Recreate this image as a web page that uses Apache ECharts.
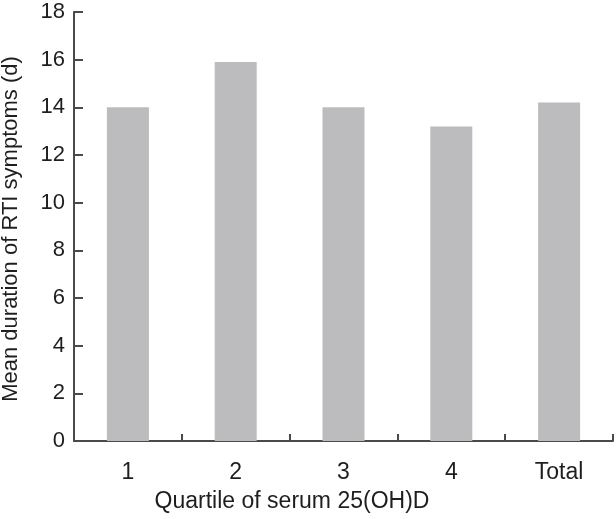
<!DOCTYPE html>
<html>
<head>
<meta charset="utf-8">
<script src="https://cdn.jsdelivr.net/npm/echarts@6/dist/echarts.min.js"></script>
<style>
  html, body { margin: 0; padding: 0; background: #fff; }
  #chart { width: 616px; height: 519px; }
</style>
</head>
<body>
<div id="chart"></div>
<script>
// categories and mean duration values
var quartiles = ['1', '2', '3', '4', 'Total'];
var meanDuration = [14.0, 15.9, 14.0, 13.2, 14.2];
var yTicks = [0, 2, 4, 6, 8, 10, 12, 14, 16, 18];

var axisColor = '#4a4a4a';
var textColor = '#1e1e1e';
var font = 'Liberation Sans, Arial, sans-serif';

var chart = echarts.init(document.getElementById('chart'));
chart.setOption({
    animation: false,
    grid: { left: 74, right: 3, top: 12, bottom: 78 },
    xAxis: {
        type: 'category',
        data: quartiles,
        axisLine: { lineStyle: { color: axisColor, width: 2 } },
        axisTick: { show: true, inside: true, length: 7, lineStyle: { color: axisColor, width: 2 } },
        axisLabel: { color: textColor, fontSize: 23, fontFamily: font, margin: 20 },
        splitLine: { show: false }
    },
    yAxis: {
        type: 'value',
        min: yTicks[0],
        max: yTicks[yTicks.length - 1],
        interval: 2,
        axisLine: { show: true, lineStyle: { color: axisColor, width: 2 } },
        axisTick: { show: true, inside: true, length: 9, lineStyle: { color: axisColor, width: 2 } },
        axisLabel: { color: textColor, fontSize: 22, fontFamily: font, margin: 9 },
        splitLine: { show: false }
    },
    // axis titles, placed as in the figure (x title sits left of centre)
    graphic: [
        {
            type: 'text',
            x: 292, y: 502,
            style: {
                text: 'Quartile of serum 25(OH)D',
                fill: textColor, fontSize: 23, fontFamily: font,
                align: 'center', verticalAlign: 'middle'
            }
        },
        {
            type: 'text',
            x: 11, y: 229,
            rotation: Math.PI / 2,
            style: {
                text: 'Mean duration of RTI symptoms (d)',
                fill: textColor, fontSize: 22, fontFamily: font,
                align: 'center', verticalAlign: 'middle'
            }
        }
    ],
    series: [{
        type: 'bar',
        data: meanDuration,
        barWidth: 42,
        itemStyle: { color: '#bcbcbe' }
    }]
});
</script>
</body>
</html>
